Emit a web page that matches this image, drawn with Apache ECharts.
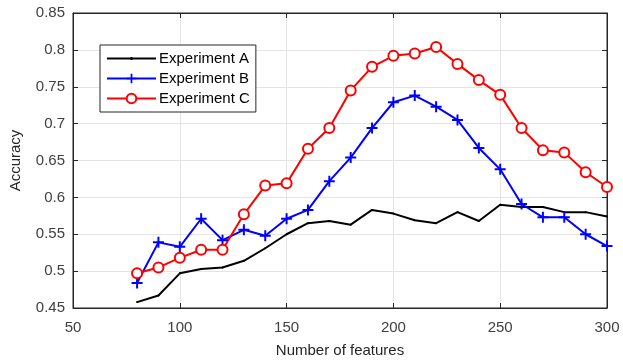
<!DOCTYPE html>
<html><head><meta charset="utf-8">
<script src="https://cdn.jsdelivr.net/npm/echarts@6/dist/echarts.min.js"></script>
<style>html,body{margin:0;padding:0;background:#fff}#c{width:623px;height:364px}</style>
</head><body><div id="c"></div>
<script>
const features = [80,90,100,110,120,130,140,150,160,170,180,190,200,210,220,230,240,250,260,270,280,290,300];
const expA = [0.458,0.467,0.497,0.503,0.505,0.514,0.531,0.550,0.565,0.568,0.563,0.583,0.578,0.569,0.565,0.580,0.568,0.590,0.587,0.587,0.580,0.580,0.574];
const expB = [0.484,0.539,0.533,0.571,0.542,0.556,0.548,0.571,0.583,0.622,0.654,0.694,0.729,0.738,0.723,0.705,0.667,0.638,0.591,0.573,0.573,0.550,0.534];
const expC = [0.497,0.505,0.518,0.529,0.529,0.577,0.616,0.619,0.666,0.694,0.745,0.777,0.792,0.795,0.804,0.781,0.759,0.739,0.694,0.664,0.661,0.634,0.614];
const xTicks = [50,100,150,200,250,300];
const yTicks = [0.45,0.5,0.55,0.6,0.65,0.7,0.75,0.8,0.85];

const pair = arr => features.map((x,i)=>[x,arr[i]]);
const font = 'Liberation Sans, Arial, sans-serif';
const axisCol = '#262626';
const labelCol = '#404040';
const plus = 'path://M-0.9,-5L0.9,-5L0.9,-0.9L5,-0.9L5,0.9L0.9,0.9L0.9,5L-0.9,5L-0.9,0.9L-5,0.9L-5,-0.9L-0.9,-0.9Z';
const lineDot = 'path://M0,0L0.01,0M49,12L48.99,12M0,5L49,5L49,7L0,7ZM23.5,4.5L25.5,4.5L25.5,7.5L23.5,7.5Z';

const chart = echarts.init(document.getElementById('c'), null, {renderer:'canvas'});
const baseX = {type:'value', min:xTicks[0], max:xTicks[xTicks.length-1], interval:50};
const baseY = {type:'value', min:yTicks[0], max:yTicks[yTicks.length-1], interval:0.05};
chart.setOption({
  animation:false,
  backgroundColor:'#fff',
  grid:{left:72, right:16, top:13, bottom:56, show:true, borderColor:axisCol, borderWidth:1},
  legend:{
    left:100, top:45, orient:'vertical',
    backgroundColor:'#fff', borderColor:axisCol, borderWidth:1, borderRadius:0,
    padding:[6,6,6,6], itemWidth:49, itemHeight:12, itemGap:5,
    textStyle:{fontFamily:font, fontSize:15, color:'#000', padding:[0,0,0,-2]},
    data:[{name:'Experiment A', icon:lineDot},'Experiment B','Experiment C']
  },
  xAxis:[
    Object.assign({}, baseX, {
      position:'bottom',
      name:'Number of features', nameLocation:'middle', nameGap:35,
      nameTextStyle:{fontFamily:font, fontSize:15, color:axisCol},
      axisLine:{show:true, lineStyle:{color:axisCol}},
      axisTick:{show:true, inside:true, length:5, lineStyle:{color:axisCol}},
      axisLabel:{fontFamily:font, fontSize:15, color:labelCol, margin:12},
      splitLine:{show:true, lineStyle:{color:'#e4e4e4'}}
    }),
    Object.assign({}, baseX, {
      position:'top',
      axisLine:{show:true, lineStyle:{color:axisCol}},
      axisTick:{show:true, inside:true, length:5, lineStyle:{color:axisCol}},
      axisLabel:{show:false}, splitLine:{show:false}
    })
  ],
  yAxis:[
    Object.assign({}, baseY, {
      position:'left',
      name:'Accuracy', nameLocation:'middle', nameGap:50, nameRotate:90,
      nameTextStyle:{fontFamily:font, fontSize:15, color:axisCol},
      axisLine:{show:true, lineStyle:{color:axisCol}},
      axisTick:{show:true, inside:true, length:5, lineStyle:{color:axisCol}},
      axisLabel:{fontFamily:font, fontSize:15, color:labelCol, margin:8,
        formatter:v=>String(+v.toFixed(2))},
      splitLine:{show:true, lineStyle:{color:'#e4e4e4'}}
    }),
    Object.assign({}, baseY, {
      position:'right',
      axisLine:{show:true, lineStyle:{color:axisCol}},
      axisTick:{show:true, inside:true, length:5, lineStyle:{color:axisCol}},
      axisLabel:{show:false}, splitLine:{show:false}
    })
  ],
  series:[
    {name:'Experiment A', type:'line', data:pair(expA), symbol:'circle', symbolSize:2,
     lineStyle:{color:'#000', width:2}, itemStyle:{color:'#000'}},
    {name:'Experiment B', type:'line', data:pair(expB), symbol:plus, symbolSize:11,
     lineStyle:{color:'#0000ff', width:2}, itemStyle:{color:'#0000ff'}},
    {name:'Experiment C', type:'line', data:pair(expC), symbol:'emptyCircle', symbolSize:10,
     lineStyle:{color:'#ff0000', width:2}, itemStyle:{color:'#ff0000', borderWidth:2}}
  ]
});
</script></body></html>
